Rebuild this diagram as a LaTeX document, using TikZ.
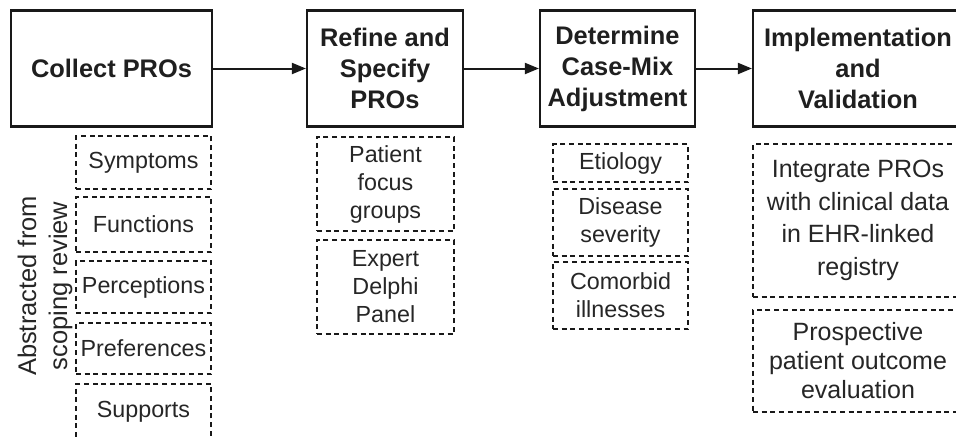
\documentclass[tikz,border=0pt]{standalone}
\usepackage{fontspec}
\setmainfont{Liberation Sans}
\usetikzlibrary{arrows.meta}
\begin{document}
\begin{tikzpicture}[x=1pt,y=-1pt,
  mainbox/.style={draw=black!90, line width=2.2pt, inner sep=0pt, align=center,
    font=\fontsize{25.4}{31}\selectfont\bfseries, text=black!88},
  subbox/.style={draw=black!90, line width=1.6pt, dash pattern=on 5pt off 3.7pt,
    inner sep=0pt, align=center, font=\fontsize{23.3}{28}\selectfont, text=black!85},
  bigsub/.style={subbox, font=\fontsize{25}{32.5}\selectfont},
  flow/.style={line width=2pt, draw=black!90, -{Triangle[length=14pt,width=11pt]}}]
\useasboundingbox (0,0) rectangle (956,437);
\clip (0,0) rectangle (956,437);
% main steps
\node[mainbox, minimum width=201pt, minimum height=116pt] (c1) at (111.5,68.5) {Collect PROs};
\node[mainbox, minimum width=156pt, minimum height=116pt] (c2) at (385,68.5) {Refine and\\Specify\\PROs};
\node[mainbox, minimum width=155pt, minimum height=116pt] (c3) at (617.5,68.5) {Determine\\Case-Mix\\Adjustment};
\node[mainbox, minimum width=210pt, minimum height=116pt] (c4) at (858,68.5) {Implementation\\and\\Validation};
\draw[flow] (c1) -- (c2);
\draw[flow] (c2) -- (c3);
\draw[flow] (c3) -- (c4);
% column 1
\node[subbox, minimum width=135pt, minimum height=53pt] (s1) at (143.5,162.5) {Symptoms};
\node[subbox, minimum width=135pt, minimum height=55pt] (s2) at (143.5,224.5) {Functions};
\node[subbox, minimum width=135pt, minimum height=52pt] (s3) at (143.5,287) {Perceptions};
\node[subbox, minimum width=135pt, minimum height=51pt] (s4) at (143.5,348.5) {Preferences};
\node[subbox, minimum width=135pt, minimum height=56pt] (s5) at (143.5,412) {Supports};
\node[font=\fontsize{25.5}{31}\selectfont, text=black!85, rotate=90, align=center] (lbl) at (45,286) {Abstracted from\\scoping review};
% column 2
\node[subbox, minimum width=137pt, minimum height=94pt] (r1) at (385.5,184) {Patient\\focus\\groups};
\node[subbox, minimum width=137pt, minimum height=94pt] (r2) at (385.5,287) {Expert\\Delphi\\Panel};
% column 3
\node[subbox, minimum width=135pt, minimum height=38pt] (d1) at (620.5,163) {Etiology};
\node[subbox, minimum width=135pt, minimum height=67pt] (d2) at (620.5,222.5) {Disease\\severity};
\node[subbox, minimum width=135pt, minimum height=67pt] (d3) at (620.5,295.5) {Comorbid\\illnesses};
% column 4
\node[bigsub, minimum width=210pt, minimum height=153pt] (i1) at (858,220.5) {Integrate PROs\\with clinical data\\in EHR-linked\\registry};
\node[bigsub, font=\fontsize{25}{29}\selectfont, minimum width=210pt, minimum height=102pt] (i2) at (858,361) {Prospective\\patient outcome\\evaluation};
\end{tikzpicture}
\end{document}
